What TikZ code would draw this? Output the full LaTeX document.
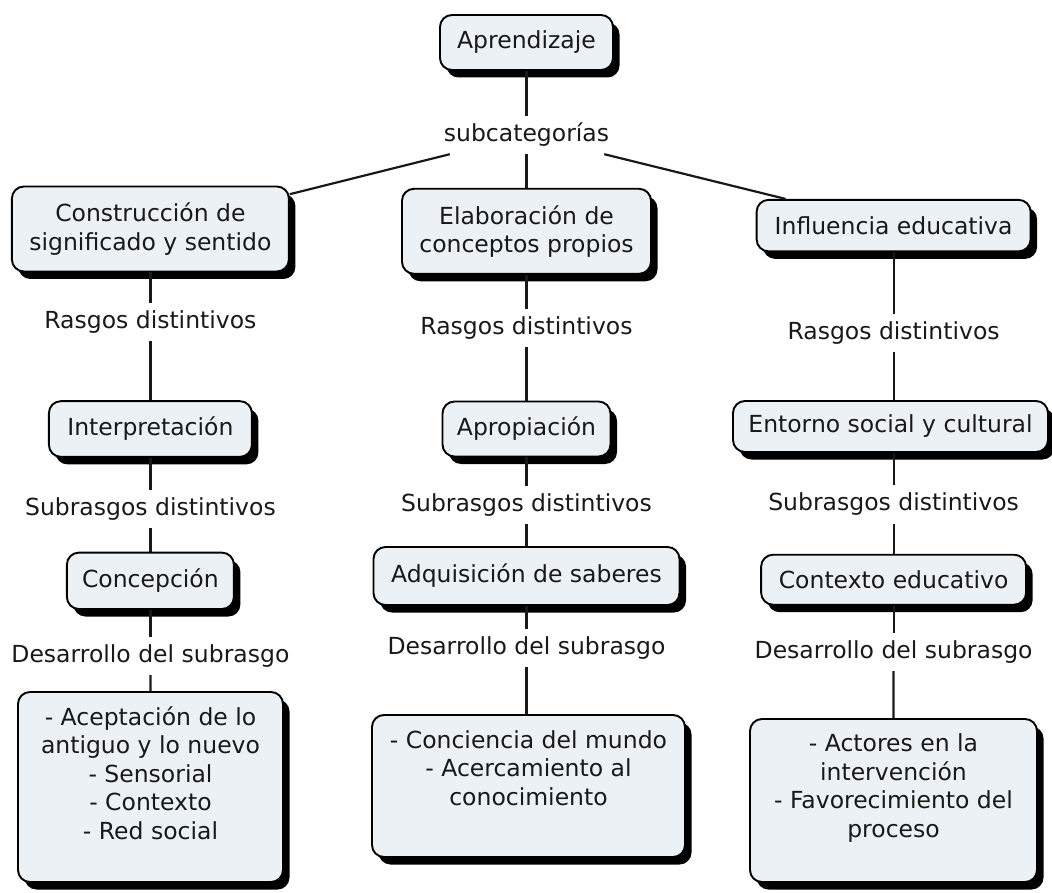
\documentclass[tikz,border=0pt]{standalone}
\usepackage{fontspec}
\setmainfont{DejaVu Sans}
\usetikzlibrary{shadows}
\definecolor{boxfill}{RGB}{235,241,245}
\definecolor{ink}{RGB}{25,25,25}
\begin{document}
\begin{tikzpicture}[x=1pt,y=-1pt,
  every node/.style={font=\fontsize{23.5}{28.5}\selectfont, text=ink},
  cbox/.style={draw=black, line width=1.9pt, rounded corners=12pt, fill=boxfill,
    inner sep=0pt, align=center,
    general shadow={fill=black, shadow xshift=6.5pt, shadow yshift=-7.5pt}},
  lbl/.style={inner sep=0pt, inner xsep=8pt, minimum height=38pt},
  conn/.style={draw=ink, line width=2.2pt}]
\useasboundingbox (0,0) rectangle (1052,893);

% top
\node[cbox, minimum width=173pt, minimum height=55pt] (apr) at (526.5,42.5) {Aprendizaje};
\node[lbl] (sub) at (526.5,135) {subcategorías};

% level 1
\node[cbox, minimum width=277pt, minimum height=85pt] (cons) at (150.4,229) {Construcción de\\significado y sentido};
\node[cbox, minimum width=249pt, minimum height=85pt] (elab) at (526.5,231.3) {Elaboración de\\conceptos propios};
\node[cbox, minimum width=274pt, minimum height=51.5pt] (infl) at (893.6,225.6) {Influencia educativa};

% rasgos
\node[lbl] (r1) at (150.4,322) {Rasgos distintivos};
\node[lbl] (r2) at (526.5,328) {Rasgos distintivos};
\node[lbl] (r3) at (893.6,333) {Rasgos distintivos};

% level 2
\node[cbox, minimum width=203pt, minimum height=55.7pt] (interp) at (150.4,429) {Interpretación};
\node[cbox, minimum width=168pt, minimum height=55pt] (aprop) at (526.5,429) {Apropiación};
\node[cbox, minimum width=315pt, minimum height=51pt] (ento) at (890.5,426.5) {Entorno social y cultural};

% subrasgos
\node[lbl] (s1) at (150.4,509) {Subrasgos distintivos};
\node[lbl] (s2) at (526.5,505) {Subrasgos distintivos};
\node[lbl] (s3) at (893.6,504.5) {Subrasgos distintivos};

% level 3
\node[cbox, minimum width=167pt, minimum height=56.4pt] (conc) at (150.4,580.8) {Concepción};
\node[cbox, minimum width=306pt, minimum height=58pt] (adq) at (526.5,576) {Adquisición de saberes};
\node[cbox, minimum width=265pt, minimum height=50pt] (ctx) at (893.6,579.7) {Contexto educativo};

% desarrollo
\node[lbl] (d1) at (150.4,656) {Desarrollo del subrasgo};
\node[lbl] (d2) at (526.5,648) {Desarrollo del subrasgo};
\node[lbl] (d3) at (893.6,652) {Desarrollo del subrasgo};

% bottom boxes
\node[cbox] (b1) at (150.5,787) {\parbox[c][190pt][t]{265pt}{\centering\rule{0pt}{33pt}- Aceptación de lo\\antiguo y lo nuevo\\- Sensorial\\- Contexto\\- Red social}};
\node[cbox] (b2) at (528.5,786) {\parbox[c][142pt][t]{313pt}{\centering\rule{0pt}{33pt}- Conciencia del mundo\\- Acercamiento al\\conocimiento}};
\node[cbox] (b3) at (893.5,800.5) {\parbox[c][163pt][t]{287pt}{\centering\rule{0pt}{32.5pt}- Actores en la\\intervención\\- Favorecimiento del\\proceso}};

% connectors
\draw[conn] (apr) -- (sub);
\draw[conn] (sub) -- (cons);
\draw[conn] (sub) -- (elab);
\draw[conn] (sub) -- (infl);

\draw[conn] (cons) -- (r1);
\draw[conn] (r1) -- (interp);
\draw[conn] (interp) -- (s1);
\draw[conn] (s1) -- (conc);
\draw[conn] (conc) -- (d1);
\draw[conn] (d1) -- (b1);

\draw[conn] (elab) -- (r2);
\draw[conn] (r2) -- (aprop);
\draw[conn] (aprop) -- (s2);
\draw[conn] (s2) -- (adq);
\draw[conn] (adq) -- (d2);
\draw[conn] (d2.south) -- (d2.south |- b2.north);

\draw[conn] (infl) -- (r3);
\draw[conn] (r3.south) -- (r3.south |- ento.north);
\draw[conn] (ento.south -| s3.north) -- (s3.north);
\draw[conn] (s3) -- (ctx);
\draw[conn] (ctx) -- (d3);
\draw[conn] (d3) -- (b3);
\end{tikzpicture}
\end{document}
